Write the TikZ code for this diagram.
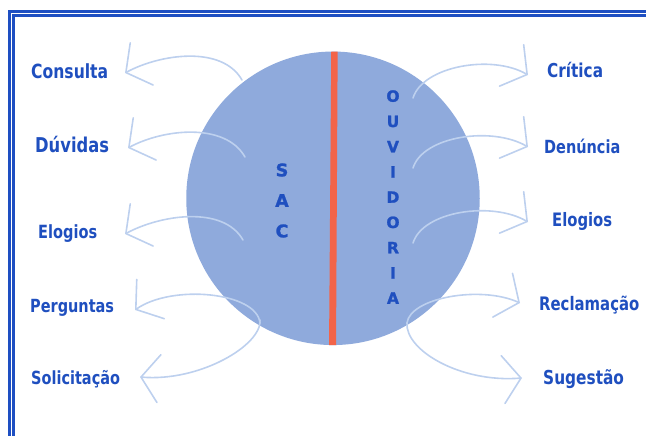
\documentclass[tikz,border=0pt]{standalone}
\usepackage{fontspec}
\usetikzlibrary{arrows.meta}
\newfontfamily\lblfont{DejaVu Sans}[FakeStretch=0.8]
\newfontfamily\letterfont{DejaVu Sans}[BoldFeatures={FakeBold=1.2}]
\definecolor{framec}{HTML}{1E4FC2}
\definecolor{circc}{HTML}{8FAADC}
\definecolor{redc}{HTML}{F26449}
\definecolor{arrowc}{HTML}{BDD0EE}
\definecolor{textc}{HTML}{1F4FBF}
\tikzset{
  frameline/.style={draw=framec},
  flow/.style={draw=arrowc, line width=1.6pt, line cap=round,
    -{Straight Barb[length=18pt,width=48pt,line cap=round]}},
  lbl/.style={inner sep=0pt, text=textc, font=\lblfont\bfseries\fontsize{#1}{#1}\selectfont},
  lbl/.default=18,
  lft/.style={lbl=#1, anchor=base west},
  letters/.style={inner sep=0pt, text=textc, align=center}
}
\begin{document}
\begin{tikzpicture}[x=1pt,y=-1pt]
\useasboundingbox (0,0) rectangle (646,436);
% frame
\draw[frameline, line width=3pt] (9.7,437) -- (9.7,11.7) -- (647,11.7);
\draw[frameline, line width=2.3pt] (13.6,437) -- (13.6,15.6) -- (647,15.6);
% circle
\node (circ) [circle, fill=circc, minimum size=293.5pt, inner sep=0pt] at (333,198.3) {};
\begin{scope}
\clip (333,198.3) circle (146.75);
\fill[redc] (331.3,45) -- (337.7,45) -- (336,352) -- (329,352) -- cycle;
\end{scope}
% coordinates
\coordinate (s1) at (242,80);   \coordinate (t1) at (125,73);
\coordinate (s2) at (245,157);  \coordinate (t2) at (128,148);
\coordinate (s3) at (243,240);  \coordinate (t3) at (125,234);
\coordinate (s4) at (260,323);  \coordinate (t4) at (135,310);
\coordinate (s5) at (260,320);  \coordinate (t5) at (140,377);
\coordinate (r1) at (413,98);   \coordinate (u1) at (528,75);
\coordinate (r2) at (413,168);  \coordinate (u2) at (528,147);
\coordinate (r3) at (413,243);  \coordinate (u3) at (528,222);
\coordinate (r4) at (407,323);  \coordinate (u4) at (520,303);
\coordinate (r5) at (407,323);  \coordinate (u5) at (522,378);
% left arrows
\draw[flow] (s1) .. controls (222,45) and (160,54) .. (t1);
\draw[flow] (s2) .. controls (225,122) and (163,129) .. (t2);
\draw[flow] (s3) .. controls (223,205) and (160,215) .. (t3);
\draw[flow] (s4) .. controls (257,292) and (172,284) .. (t4);
\draw[flow] (s5) .. controls (262,345) and (200,382) .. (t5);
% right arrows
\draw[flow] (r1) .. controls (423,66) and (492,54) .. (u1);
\draw[flow] (r2) .. controls (423,136) and (492,126) .. (u2);
\draw[flow] (r3) .. controls (423,211) and (492,201) .. (u3);
\draw[flow] (r4) .. controls (410,298) and (480,285) .. (u4);
\draw[flow] (r5) .. controls (405,350) and (460,383) .. (u5);
% left labels
\node (consulta) [lft=19.5] at (31,78.3) {Consulta};
\node (duvidas) [lft=20.4] at (35,153) {Dúvidas};
\node (elogiosl) [lft=18.2] at (38,238) {Elogios};
\node (perguntas) [lft=18.1] at (30,312.7) {Perguntas};
\node (solicitacao) [lft=18.1] at (31,384) {Solicitação};
% right labels
\node (critica) [lft=19.1] at (547,77.7) {Crítica};
\node (denuncia) [lft=18.1] at (544,153.3) {Denúncia};
\node (elogiosr) [lft=18.5] at (552,226.7) {Elogios};
\node (reclamacao) [lft=18.6] at (539,310) {Reclamação};
\node (sugestao) [lft=19.2] at (543,384) {Sugestão};
% vertical words
\node (sac) [letters, font=\letterfont\bfseries\fontsize{17.5}{30.5}\selectfont] at (282,200.5) {S\\A\\C};
\node (ouv) [letters, font=\letterfont\bfseries\fontsize{15.5}{25.25}\selectfont] at (393,197) {O\\U\\V\\I\\D\\O\\R\\I\\A};
\end{tikzpicture}
\end{document}
